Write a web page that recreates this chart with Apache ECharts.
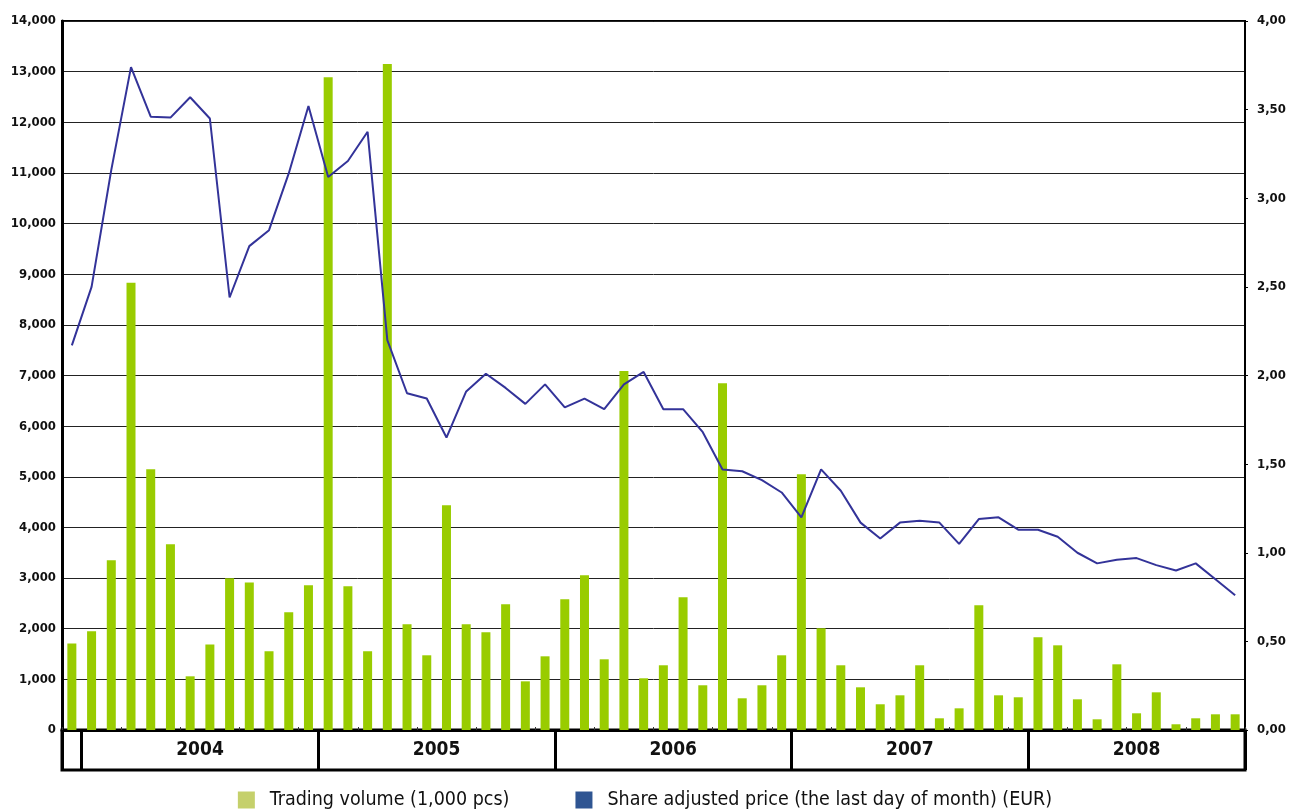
<!DOCTYPE html>
<html>
<head>
<meta charset="utf-8">
<script src="https://cdn.jsdelivr.net/npm/echarts@6/dist/echarts.min.js"></script>
<style>
html,body{margin:0;padding:0;background:#fff;}
#chart{width:1290px;height:811px;}
</style>
</head>
<body>
<div id="chart"></div>
<script>
// Months: Dec 2003 .. Nov 2008
var months = [
  '12/2003',
  '01/2004','02/2004','03/2004','04/2004','05/2004','06/2004','07/2004','08/2004','09/2004','10/2004','11/2004','12/2004',
  '01/2005','02/2005','03/2005','04/2005','05/2005','06/2005','07/2005','08/2005','09/2005','10/2005','11/2005','12/2005',
  '01/2006','02/2006','03/2006','04/2006','05/2006','06/2006','07/2006','08/2006','09/2006','10/2006','11/2006','12/2006',
  '01/2007','02/2007','03/2007','04/2007','05/2007','06/2007','07/2007','08/2007','09/2007','10/2007','11/2007','12/2007',
  '01/2008','02/2008','03/2008','04/2008','05/2008','06/2008','07/2008','08/2008','09/2008','10/2008','11/2008'
];

// Trading volume (1,000 pcs)
var volume = [
  1710,
  1950,3350,8830,5150,3670,1060,1690,2995,2915,1555,2325,2857,
  12890,2838,1555,13150,2087,1475,4437,2087,1929,2482,961,1455,
  2581,3055,1396,7090,1021,1278,2620,883,6846,626,883,1475,
  5049,2008,1278,843,508,685,1278,231,428,2462,685,646,
  1830,1672,606,211,1297,330,744,113,231,310,310
];

// Share adjusted price, last day of month (EUR)
var price = [
  2.17,
  2.50,3.16,3.74,3.46,3.455,3.57,3.45,2.44,2.73,2.82,3.14,3.52,
  3.12,3.21,3.375,2.20,1.90,1.87,1.65,1.91,2.01,1.93,1.84,1.95,
  1.82,1.87,1.81,1.95,2.02,1.81,1.81,1.68,1.47,1.46,1.41,1.34,
  1.20,1.47,1.35,1.17,1.08,1.17,1.18,1.17,1.05,1.19,1.20,1.13,
  1.13,1.09,1.00,0.94,0.96,0.97,0.93,0.90,0.94,0.85,0.76
];

// Year band below the axis
var years = ['2004','2005','2006','2007','2008'];
var yearMonthCounts = [12,12,12,12,11];
var leadMonths = 1; // Dec 2003 cell before 2004

var seriesNames = ['Trading volume (1,000 pcs)', 'Share adjusted price (the last day of month) (EUR)'];

// derive year boundaries / centres in month units
var yearTicks = [0, leadMonths];
var yearCenters = [];
var acc = leadMonths;
for (var i = 0; i < yearMonthCounts.length; i++) {
  yearCenters.push(acc + yearMonthCounts[i] / 2);
  acc += yearMonthCounts[i];
  yearTicks.push(acc);
}

var FONT = 'DejaVu Sans Condensed';

var chart = echarts.init(document.getElementById('chart'), null, {renderer: 'canvas'});
chart.setOption({
  backgroundColor: '#fff',
  animation: false,
  textStyle: {fontFamily: FONT},
  grid: [
    {left: 62, right: 45, top: 21, bottom: 81, show: true, borderColor: '#000', borderWidth: 2, backgroundColor: 'transparent'},
    {left: 62, right: 45, top: 730, bottom: 41, show: true, borderColor: '#000', borderWidth: 3, backgroundColor: 'transparent'}
  ],
  legend: {
    top: 785,
    left: 'center',
    itemWidth: 17,
    itemHeight: 17,
    itemGap: 66,
    icon: 'rect',
    textStyle: {fontFamily: FONT, fontSize: 19.5, color: '#111', padding: [0, 0, 0, 10]},
    data: [
      {name: seriesNames[0], itemStyle: {color: '#C5D06B'}},
      {name: seriesNames[1], itemStyle: {color: '#2F5592'}}
    ]
  },
  xAxis: [
    {
      type: 'category',
      gridIndex: 0,
      data: months,
      boundaryGap: true,
      axisLine: {lineStyle: {color: '#000', width: 3}},
      axisTick: {show: true, inside: true, length: 3, lineStyle: {color: '#333', width: 1}},
      axisLabel: {show: false},
      splitLine: {show: false}
    },
    {
      type: 'value',
      gridIndex: 1,
      min: 0,
      max: months.length,
      position: 'bottom',
      axisLine: {show: false},
      axisTick: {show: true, inside: true, length: 40, customValues: yearTicks, lineStyle: {color: '#000', width: 3}},
      axisLabel: {
        show: true, margin: -29,
        customValues: yearCenters,
        fontFamily: FONT, fontSize: 19, fontWeight: 'bold', color: '#111',
        formatter: function (v) {
          for (var k = 0; k < yearCenters.length; k++) {
            if (Math.abs(yearCenters[k] - v) < 0.01) return years[k];
          }
          return '';
        }
      },
      splitLine: {show: false}
    }
  ],
  yAxis: [
    {
      type: 'value',
      gridIndex: 0,
      min: 0, max: 14000, interval: 1000,
      position: 'left',
      axisLine: {show: true, lineStyle: {color: '#000', width: 3}},
      axisTick: {show: false},
      axisLabel: {
        fontFamily: FONT, fontSize: 13, fontWeight: 'bold', color: '#111', margin: 6,
        formatter: function (v) { return v.toString().replace(/\B(?=(\d{3})+(?!\d))/g, ','); }
      },
      splitLine: {show: true, lineStyle: {color: '#222', width: 1}}
    },
    {
      type: 'value',
      gridIndex: 0,
      min: 0, max: 4, interval: 0.5,
      position: 'right',
      axisLine: {show: true, lineStyle: {color: '#000', width: 2}},
      axisTick: {show: true, length: 3, lineStyle: {color: '#000'}},
      axisLabel: {
        fontFamily: FONT, fontSize: 13, fontWeight: 'bold', color: '#111', margin: 12,
        formatter: function (v) { return v.toFixed(2).replace('.', ','); }
      },
      splitLine: {show: false}
    },
    {
      type: 'value',
      gridIndex: 1,
      min: 0, max: 1,
      show: false
    }
  ],
  series: [
    {
      name: seriesNames[0],
      type: 'bar',
      xAxisIndex: 0,
      yAxisIndex: 0,
      data: volume,
      barWidth: 9,
      itemStyle: {color: '#99CC00'},
      z: 2
    },
    {
      name: seriesNames[1],
      type: 'line',
      xAxisIndex: 0,
      yAxisIndex: 1,
      data: price,
      symbol: 'none',
      lineStyle: {color: '#333399', width: 2},
      itemStyle: {color: '#333399'},
      z: 3
    }
  ]
});
</script>
</body>
</html>
